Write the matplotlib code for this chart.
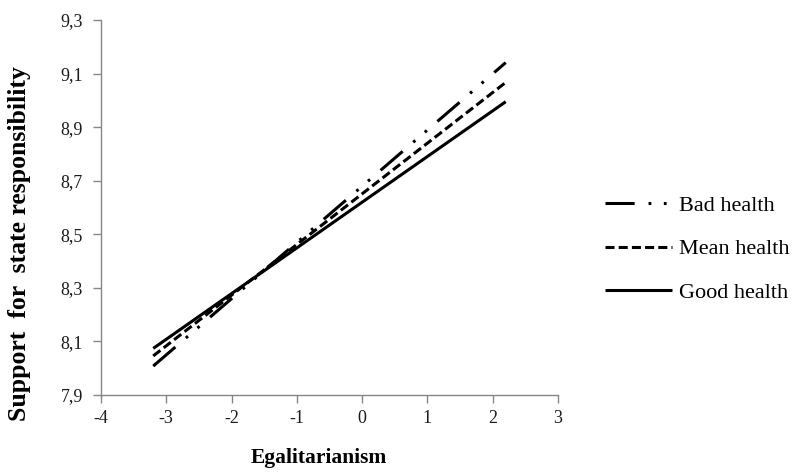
import matplotlib
matplotlib.use("Agg")
from matplotlib import pyplot as plt
import numpy as np

# egalitarianism range (mean +/- SD)
egal = [-3.2, 2.2]
bad_health = [8.008, 9.141]
mean_health = [8.046, 9.067]
good_health = [8.074, 8.995]

xticks = [-4, -3, -2, -1, 0, 1, 2, 3]
yticks = [7.9, 8.1, 8.3, 8.5, 8.7, 8.9, 9.1, 9.3]

plt.rcParams['font.family'] = ['Liberation Serif', 'DejaVu Serif']
plt.rcParams['lines.scale_dashes'] = False

fig = plt.figure(figsize=(8.03, 4.72), dpi=100)
ax = fig.add_axes([0.1258, 0.1631, 0.569, 0.7945])

lw = 2.2
ax.plot(egal, bad_health, color='black', lw=lw, dashes=(21, 10, 2, 9, 2, 10),
        label='Bad health', dash_capstyle='butt')
ax.plot(egal, mean_health, color='black', lw=lw, dashes=(6.5, 3),
        label='Mean health', dash_capstyle='butt')
ax.plot(egal, good_health, color='black', lw=lw, label='Good health',
        solid_capstyle='butt')

ax.set_xlim(-4, 3)
ax.set_ylim(7.9, 9.3)
ax.set_xticks(xticks)
ax.set_yticks(yticks)
ax.set_xticklabels([str(t) for t in xticks])
ax.set_yticklabels([f"{t:.1f}".replace('.', ',') for t in yticks])
ax.tick_params(axis='both', labelsize=13, color='#868686', length=6, width=1,
               labelcolor='#1a1a1a')
ax.tick_params(axis='x', pad=5)
ax.tick_params(axis='y', pad=7)

for side in ['top', 'right']:
    ax.spines[side].set_visible(False)
for side in ['left', 'bottom']:
    ax.spines[side].set_color('#868686')
    ax.spines[side].set_linewidth(1)

ax.set_xlabel('Egalitarianism', fontsize=15.5, fontweight='bold')
ax.xaxis.set_label_coords(0.477, -0.141)
ax.set_ylabel('Support  for  state responsibility', fontsize=18.5,
              fontweight='bold')
ax.yaxis.set_label_coords(-0.153, 0.405)

ax.legend(loc='center left', bbox_to_anchor=(1.103, 0.389), frameon=False,
          fontsize=16, handlelength=3.0, handletextpad=0.35, labelspacing=1.02,
          borderpad=0, borderaxespad=0)

fig.savefig('out.png', dpi=100)
